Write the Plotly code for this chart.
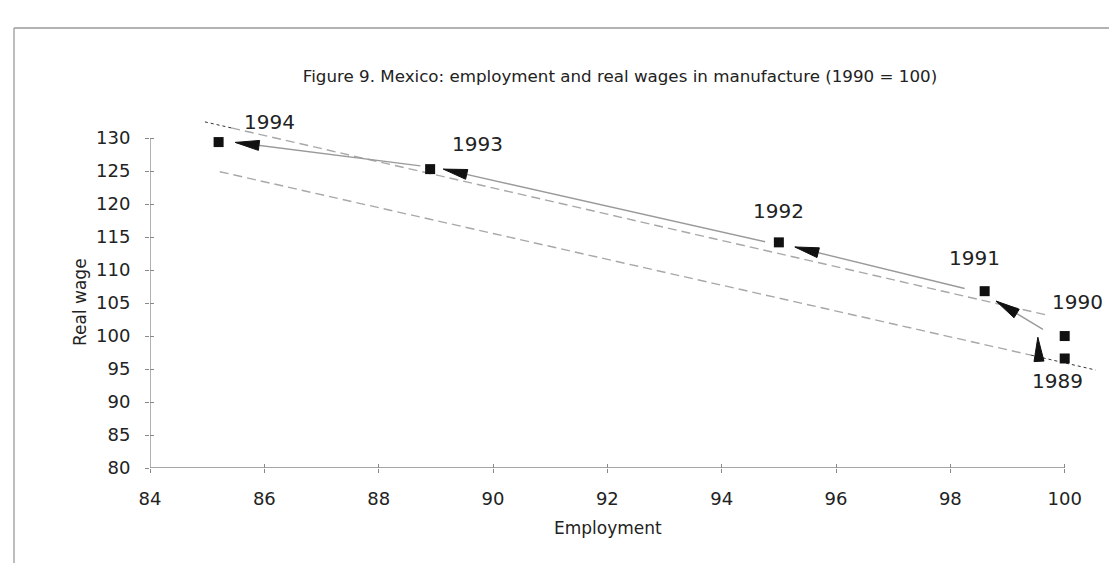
import plotly.graph_objects as go

# ---- data ----
years = ["1989", "1990", "1991", "1992", "1993", "1994"]
employment = [100.0, 100.0, 98.6, 95.0, 88.9, 85.2]
real_wage = [96.6, 100.0, 106.8, 114.2, 125.3, 129.4]

# arrows (tail -> tip), data coordinates
arrow_tail_x = [99.55, 99.62, 98.25, 94.76, 88.73]
arrow_tail_y = [96.2, 101.0, 107.2, 114.3, 125.8]
arrow_tip_x = [99.53, 98.80, 95.28, 89.13, 85.49]
arrow_tip_y = [99.8, 105.3, 113.5, 125.3, 129.35]

# dashed band lines
upper_dark_x = [84.96, 85.42]
upper_dark_y = [132.46, 131.55]
upper_x = [85.42, 99.70]
upper_y = [131.55, 103.16]
lower_x = [85.22, 99.41]
lower_y = [124.91, 97.11]
lower_dark_x = [99.41, 100.54]
lower_dark_y = [97.11, 94.85]

x_ticks = [84, 86, 88, 90, 92, 94, 96, 98, 100]
y_ticks = [80, 85, 90, 95, 100, 105, 110, 115, 120, 125, 130]

# ---- layout geometry ----
W, H = 1117, 563
ML, MR, MT, MB = 142, 26, 109, 103
XR = [84, 100.6]
YR = [80, 133.2]
PW = W - ML - MR
PH = H - MT - MB
sx = PW / (XR[1] - XR[0])
sy = PH / (YR[1] - YR[0])

FONT = "DejaVu Sans"
fig = go.Figure()

# dashed lines
fig.add_trace(go.Scatter(x=upper_x, y=upper_y, mode="lines",
                         line=dict(color="#a8a8a8", width=1.4, dash="9px,5px"),
                         hoverinfo="skip", showlegend=False))
fig.add_trace(go.Scatter(x=lower_x, y=lower_y, mode="lines",
                         line=dict(color="#a8a8a8", width=1.4, dash="9px,5px"),
                         hoverinfo="skip", showlegend=False))
for xs, ys in [(upper_dark_x, upper_dark_y), (lower_dark_x, lower_dark_y)]:
    fig.add_trace(go.Scatter(x=xs, y=ys, mode="lines",
                             line=dict(color="#333333", width=1, dash="3px,3px"),
                             hoverinfo="skip", showlegend=False))

# arrow shafts
sh_x, sh_y = [], []
for tx, ty, hx, hy in zip(arrow_tail_x, arrow_tail_y, arrow_tip_x, arrow_tip_y):
    sh_x += [tx, hx, None]
    sh_y += [ty, hy, None]
fig.add_trace(go.Scatter(x=sh_x, y=sh_y, mode="lines",
                         line=dict(color="#9a9a9a", width=1.4),
                         hoverinfo="skip", showlegend=False))

# arrow heads as filled triangles (pixel geometry converted to data units)
HEAD_L, HEAD_W = 24, 10
hd_x, hd_y = [], []
for tx, ty, hx, hy in zip(arrow_tail_x, arrow_tail_y, arrow_tip_x, arrow_tip_y):
    dx = (hx - tx) * sx
    dy = -(hy - ty) * sy
    n = (dx ** 2 + dy ** 2) ** 0.5
    ux, uy = dx / n, dy / n
    bx, by = -HEAD_L * ux, -HEAD_L * uy
    px_, py_ = -uy, ux
    pts = [(0, 0), (bx + px_ * HEAD_W / 2, by + py_ * HEAD_W / 2),
           (bx - px_ * HEAD_W / 2, by - py_ * HEAD_W / 2), (0, 0)]
    for ox, oy in pts:
        hd_x.append(hx + ox / sx)
        hd_y.append(hy - oy / sy)
    hd_x.append(None)
    hd_y.append(None)
fig.add_trace(go.Scatter(x=hd_x, y=hd_y, mode="lines", fill="toself",
                         fillcolor="#111111", line=dict(color="#111111", width=1),
                         hoverinfo="skip", showlegend=False))

# markers
fig.add_trace(go.Scatter(x=employment, y=real_wage, mode="markers",
                         marker=dict(symbol="square", size=10, color="#111111"),
                         showlegend=False))

# year labels (pixel offsets from each point)
label_dx = [-7, 13, -10, 0, 47, 51]
label_dy = [-23, 34, 33, 31, 25, 20]
for yr, ex, rw, ox, oy in zip(years, employment, real_wage, label_dx, label_dy):
    fig.add_annotation(x=ex, y=rw, text=yr, showarrow=False, xshift=ox, yshift=oy,
                       font=dict(family=FONT, size=20, color="#222222"))

# axis lines (axis ranges are extended so the dashed lines are not clipped)
fig.add_shape(type="line", x0=x_ticks[0], x1=x_ticks[-1], y0=y_ticks[0], y1=y_ticks[0],
              xref="x", yref="y", line=dict(color="#888888", width=1.3))
fig.add_shape(type="line", x0=x_ticks[0], x1=x_ticks[0], y0=y_ticks[0], y1=y_ticks[-1],
              xref="x", yref="y", line=dict(color="#888888", width=1.3))

# frame
FT = 20
fig.add_shape(type="line", xref="paper", yref="paper",
              x0=(6 - ML) / PW, x1=(1112 - ML) / PW,
              y0=(H - MB - FT) / PH, y1=(H - MB - FT) / PH,
              line=dict(color="#9a9a9a", width=1.3))
fig.add_shape(type="line", xref="paper", yref="paper",
              x0=(6 - ML) / PW, x1=(6 - ML) / PW,
              y0=(H - MB - FT) / PH, y1=(H - MB - 560) / PH,
              line=dict(color="#9a9a9a", width=1.3))

# axis titles
fig.add_annotation(text="Employment", xref="paper", yref="paper",
                   x=(600 - ML) / PW, y=(H - MB - 532) / PH, showarrow=False,
                   font=dict(family=FONT, size=17, color="#222222"))
fig.add_annotation(text="Real wage", xref="paper", yref="paper",
                   x=(60 - ML) / PW, y=(H - MB - 294) / PH, showarrow=False,
                   textangle=-90, font=dict(family=FONT, size=17, color="#222222"))

# dummy trace for the overlay axes (inside tick halves)
fig.add_trace(go.Scatter(x=[None], y=[None], xaxis="x2", yaxis="y2",
                         showlegend=False, hoverinfo="skip"))

tickfont = dict(family=FONT, size=18, color="#222222")
fig.update_layout(
    width=W, height=H,
    margin=dict(l=ML, r=MR, t=MT, b=MB),
    paper_bgcolor="white", plot_bgcolor="white",
    title=dict(text="Figure 9. Mexico: employment and real wages in manufacture (1990 = 100)",
               x=612 / W, xanchor="center", y=1 - 68 / H, yanchor="middle",
               font=dict(family=FONT, size=16.7, color="#222222")),
    xaxis=dict(range=XR, tickvals=x_ticks, showgrid=False, zeroline=False,
               showline=False, ticks="outside", ticklen=4, tickcolor="#888888",
               tickfont=tickfont, ticklabelstandoff=10),
    yaxis=dict(range=YR, tickvals=y_ticks, showgrid=False, zeroline=False,
               showline=False, ticks="outside", ticklen=4, tickcolor="#888888",
               tickfont=tickfont, ticklabelstandoff=11),
    xaxis2=dict(range=XR, tickvals=x_ticks, overlaying="x", anchor="y2",
                showgrid=False, zeroline=False, showline=False, ticks="inside",
                ticklen=4, tickcolor="#888888", showticklabels=False),
    yaxis2=dict(range=YR, tickvals=y_ticks, overlaying="y", anchor="x2",
                showgrid=False, zeroline=False, showline=False, ticks="inside",
                ticklen=4, tickcolor="#888888", showticklabels=False),
    showlegend=False,
)

fig.write_html("out.html")
